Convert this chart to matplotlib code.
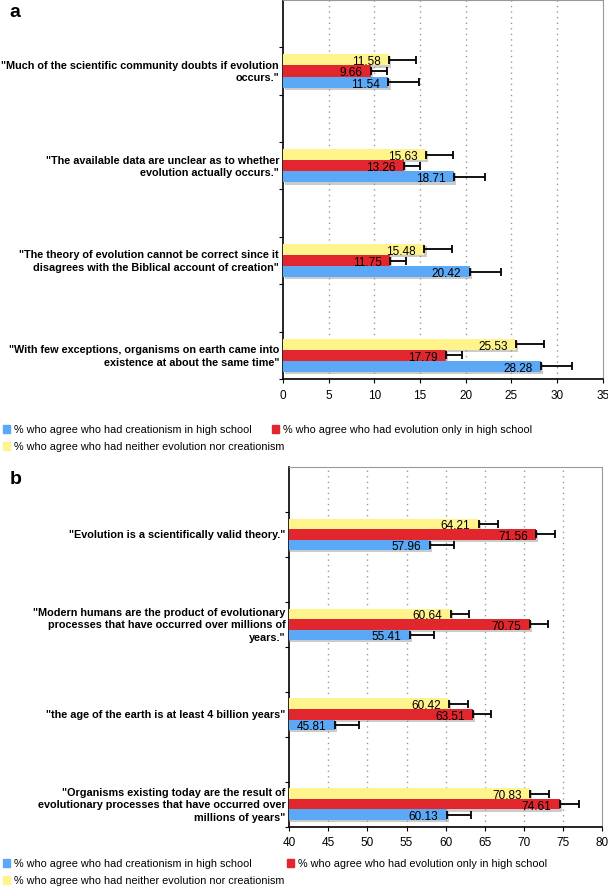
import matplotlib
matplotlib.use("Agg")
import matplotlib.pyplot as plt
import matplotlib.patches as mpatches
import matplotlib.patheffects as pe
import numpy as np

plt.rcParams['font.family'] = ['Liberation Sans', 'DejaVu Sans']

# panel a
stmt_a = ['"Much of the scientific community doubts if evolution\noccurs."',
          '"The available data are unclear as to whether\nevolution actually occurs."',
          '"The theory of evolution cannot be correct since it\ndisagrees with the Biblical account of creation"',
          '"With few exceptions, organisms on earth came into\nexistence at about the same time"']
creat_a = [11.54, 18.71, 20.42, 28.28]
evol_a = [9.66, 13.26, 11.75, 17.79]
neither_a = [11.58, 15.63, 15.48, 25.53]
creat_a_err = [3.4, 3.4, 3.4, 3.4]
evol_a_err = [1.7, 1.75, 1.75, 1.75]
neither_a_err = [3.0, 3.0, 3.0, 3.0]

# panel b
stmt_b = ['"Evolution is a scientifically valid theory."',
          '"Modern humans are the product of evolutionary\nprocesses that have occurred over millions of\nyears."',
          '"the age of the earth is at least 4 billion years"',
          '"Organisms existing today are the result of\nevolutionary processes that have occurred over\nmillions of years"']
creat_b = [57.96, 55.41, 45.81, 60.13]
evol_b = [71.56, 70.75, 63.51, 74.61]
neither_b = [64.21, 60.64, 60.42, 70.83]
creat_b_err = [3.1, 3.15, 3.05, 3.1]
evol_b_err = [2.4, 2.4, 2.35, 2.45]
neither_b_err = [2.45, 2.4, 2.45, 2.45]

labels = ['% who agree who had creationism in high school',
          '% who agree who had evolution only in high school',
          '% who agree who had neither evolution nor creationism']
BLUE, RED, YELLOW = '#5BA9F6', '#E2262D', '#FFF38C'

W, H = 608, 887
fig = plt.figure(figsize=(W / 100, H / 100), dpi=100)


def legend_item(x, y, color, text):
    # x, y in figure pixels from top-left
    fig.add_artist(mpatches.Rectangle(((x) / W, 1 - (y + 4) / H), 7 / W, 8 / H,
                                      transform=fig.transFigure, color=color))
    fig.text((x + 11) / W, 1 - y / H, text, fontsize=7.8, va='center', ha='left')


def panel(rect, stmts, series, errs, xlim, xticks, letter, letter_y, leg_y, red_x):
    ax = fig.add_axes(rect)
    y = np.arange(len(stmts))
    h = 0.117
    shadow = [pe.SimplePatchShadow(offset=(1.5, -1.5), shadow_rgbFace='#999999', alpha=0.5), pe.Normal()]
    offsets = [-h, 0, h]  # yellow on top, then red, then blue
    colors = [YELLOW, RED, BLUE]
    for vals, err, off, c in zip(series, errs, offsets, colors):
        bars = ax.barh(y + off, vals, height=h, color=c, zorder=3)
        for b in bars:
            b.set_path_effects(shadow)
        ax.errorbar(vals, y + off, xerr=[np.zeros(len(vals)), err], fmt='none',
                    ecolor='black', elinewidth=1.3, capsize=3, capthick=1.3, zorder=4)
        for yy, v in zip(y + off, vals):
            ax.annotate(f'{v:.2f}', (v, yy), xytext=(-6, -1), textcoords='offset points',
                        ha='right', va='center', fontsize=8.5, zorder=5)
    ax.set_xlim(*xlim)
    ax.set_ylim(len(stmts) - 1 + 0.21, -0.75)
    ax.set_xticks(xticks)
    ax.tick_params(axis='x', labelsize=8.5, length=3, direction='out', pad=4)
    ax.set_yticks(np.arange(-0.25, len(stmts) - 1 + 0.3, 0.5))
    ax.set_yticklabels([])
    ax.tick_params(axis='y', length=3, direction='out')
    for t in xticks[1:-1]:
        ax.axvline(t, color='#999999', linestyle=(0, (1, 3)), linewidth=1, zorder=1)
    for s in ['top', 'right']:
        ax.spines[s].set_color('#999999')
    ax.spines['left'].set_linewidth(1.2)
    ax.spines['bottom'].set_linewidth(1.2)
    for yy, s in zip(y, stmts):
        ax.text(-0.0125, yy, s, transform=ax.get_yaxis_transform(), ha='right', va='center',
                fontsize=7.8, fontweight='bold', multialignment='right', linespacing=1.3)
    fig.text(0.016, letter_y, letter, fontsize=14, fontweight='bold', va='center')
    legend_item(3, leg_y, BLUE, labels[0])
    legend_item(red_x, leg_y, RED, labels[1])
    legend_item(3, leg_y + 17, YELLOW, labels[2])


panel([0.4655, 0.5716, 0.5258, 0.4273], stmt_a, [neither_a, evol_a, creat_a],
      [neither_a_err, evol_a_err, creat_a_err], (0, 35), list(range(0, 36, 5)), 'a', 0.986, 430, 272)
panel([0.4758, 0.0669, 0.5143, 0.4055], stmt_b, [neither_b, evol_b, creat_b],
      [neither_b_err, evol_b_err, creat_b_err], (40, 80), list(range(40, 81, 5)), 'b', 0.459, 864, 287)

fig.savefig('out.png', dpi=100)
